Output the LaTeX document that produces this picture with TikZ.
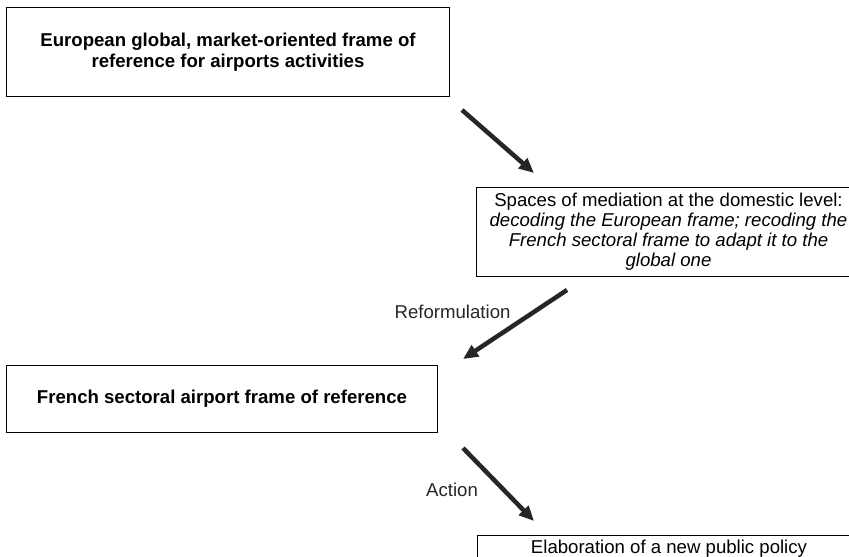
\documentclass[tikz,border=0pt]{standalone}
\usepackage{fontspec}
\setmainfont{Liberation Sans}
\usetikzlibrary{arrows.meta}

\begin{document}
\begin{tikzpicture}[
  x=1pt, y=-1pt,
  frame/.style={draw, line width=1pt, align=center, inner sep=0pt},
  boldbox/.style={frame, font=\fontsize{18.6}{21}\selectfont\bfseries},
  plainbox/.style={frame, font=\fontsize{18.6}{20}\selectfont},
  bigarr/.style={-{Triangle[length=15pt, width=13pt]}, line width=4.5pt, black!85},
  alabel/.style={font=\fontsize{18.6}{20}\selectfont, inner sep=0pt}
]
\useasboundingbox (0,0) rectangle (849,557);
\clip (0,0) rectangle (849,557);
% Level 1: European frame
\node[boldbox, minimum width=443, minimum height=89, anchor=north west] (euro) at (6,7)
  {European global, market-oriented frame of\\reference for airports activities};
% Level 2: mediation
\node[plainbox, minimum width=384, minimum height=89, anchor=north west] (media) at (476,187)
  {Spaces of mediation at the domestic level:\\
   \textit{decoding the European frame; recoding the}\\
   \textit{French sectoral frame to adapt it to the}\\
   \textit{global one}};
% Level 3: French frame
\node[boldbox, minimum width=431, minimum height=67, anchor=north west] (french) at (6,365)
  {French sectoral airport frame of reference};
% Level 4: new policy
\node[plainbox, minimum width=383, minimum height=26, anchor=north west] (policy) at (477,535)
  {Elaboration of a new public policy};
% Arrows
\coordinate (t1) at (462,110);
\coordinate (h1) at (534,173);
\coordinate (t2) at (567,290);
\coordinate (h2) at (463,359);
\coordinate (t3) at (463,448);
\coordinate (h3) at (534,521);
\draw[bigarr] (t1) -- (h1);
\draw[bigarr] (t2) -- node[alabel, pos=0.32, left=21pt] (reform) {Reformulation} (h2);
\draw[bigarr] (t3) -- node[alabel, pos=0.58, left=24pt] (action) {Action} (h3);
\end{tikzpicture}
\end{document}
